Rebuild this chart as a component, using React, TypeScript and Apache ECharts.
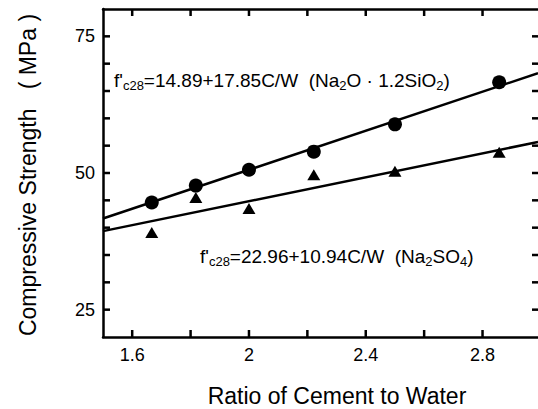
import React, { useEffect, useRef } from "react";
import * as echarts from "echarts";

// Cement-to-water ratios (C/W) of the six mixes
const cwRatio = [1.667, 1.818, 2.0, 2.222, 2.5, 2.857];
// 28-day compressive strength, MPa
const strengthSilicate = [44.6, 47.7, 50.6, 53.9, 58.9, 66.6]; // Na2O·1.2SiO2 (circles)
const strengthSulfate = [39.1, 45.5, 43.5, 49.7, 50.3, 53.8]; // Na2SO4 (triangles)
// Regression lines, end points at the left and right edges of the plot
const fitX = [1.5, 2.99];
const fitSilicate = [41.67, 68.26];
const fitSulfate = [39.37, 55.67];
// Axis ranges and ticks
const xMin = 1.5;
const xMax = 2.99;
const xTicks = [1.6, 1.8, 2.0, 2.2, 2.4, 2.6, 2.8];
const xTickLabels = [1.6, 2, 2.4, 2.8];
const yMin = 20;
const yMax = 80;
const yTicks = [25, 30, 35, 40, 45, 50, 55, 60, 65, 70, 75];
const yTickLabels = [25, 50, 75];

const FONT = "'Liberation Sans', Arial, Helvetica, sans-serif";
const TICK_LEN = 7;

export default function App() {
  const ref = useRef<HTMLDivElement>(null);
  useEffect(() => {
    if (!ref.current) return;
    const chart = echarts.init(ref.current, undefined, { renderer: "svg" });
    const axisLine = { show: true, onZero: false, lineStyle: { color: "#000", width: 2.5 } };
    const fmt = (v: number) => String(Math.round(v * 100) / 100);
    const tickStyle = { stroke: "#000", lineWidth: 2.5 };
    const rich = {
      m: { fontSize: 19, fontFamily: FONT, color: "#000", lineHeight: 24 },
      s: { fontSize: 13, fontFamily: FONT, color: "#000", lineHeight: 13, verticalAlign: "bottom" },
    };
    chart.setOption({
      animation: false,
      backgroundColor: "#fff",
      grid: { left: 103, right: 0, top: 9, bottom: 72 },
      xAxis: [
        {
          type: "value",
          min: xMin,
          max: xMax,
          position: "bottom",
          axisLine,
          splitLine: { show: false },
          axisTick: { show: false },
          axisLabel: {
            show: true,
            customValues: xTickLabels,
            formatter: fmt,
            fontSize: 18,
            fontFamily: FONT,
            color: "#000",
            margin: 9,
          },
        },
        {
          type: "value",
          min: xMin,
          max: xMax,
          position: "top",
          axisLine,
          splitLine: { show: false },
          axisTick: { show: false },
          axisLabel: { show: false },
        },
      ],
      yAxis: [
        {
          type: "value",
          min: yMin,
          max: yMax,
          interval: 5,
          position: "left",
          axisLine,
          splitLine: { show: false },
          axisTick: { show: false },
          axisLabel: {
            show: true,
            formatter: (v: number) => (yTickLabels.includes(v) ? fmt(v) : ""),
            fontSize: 18,
            fontFamily: FONT,
            color: "#000",
            margin: 8,
          },
        },
        {
          type: "value",
          min: yMin,
          max: yMax,
          interval: 5,
          position: "right",
          axisLine: { show: false },
          splitLine: { show: false },
          axisTick: { show: false },
          axisLabel: { show: false },
        },
      ],
      series: [
        {
          type: "line",
          data: fitX.map((x, i) => [x, fitSilicate[i]]),
          showSymbol: false,
          lineStyle: { color: "#000", width: 2.5 },
        },
        {
          type: "line",
          data: fitX.map((x, i) => [x, fitSulfate[i]]),
          showSymbol: false,
          lineStyle: { color: "#000", width: 2.5 },
        },
        {
          type: "scatter",
          data: cwRatio.map((x, i) => [x, strengthSilicate[i]]),
          symbol: "circle",
          symbolSize: 14,
          itemStyle: { color: "#000", opacity: 1 },
          z: 5,
        },
        {
          type: "scatter",
          data: cwRatio.map((x, i) => [x, strengthSulfate[i]]),
          symbol: "triangle",
          symbolSize: [13, 11],
          itemStyle: { color: "#000", opacity: 1 },
          z: 5,
        },
        // inward tick marks on bottom and top axes
        {
          type: "custom",
          clip: false,
          data: xTicks.map((v) => [v, yMin]),
          encode: { x: 0, y: 1 },
          renderItem: (_p: any, api: any) => {
            const x = api.value(0);
            const b = api.coord([x, yMin]);
            const t = api.coord([x, yMax]);
            return {
              type: "group",
              children: [
                { type: "line", shape: { x1: b[0], y1: b[1], x2: b[0], y2: b[1] - TICK_LEN }, style: tickStyle },
                { type: "line", shape: { x1: t[0], y1: t[1], x2: t[0], y2: t[1] + TICK_LEN }, style: tickStyle },
              ],
            };
          },
        },
        // inward tick marks on left and right axes
        {
          type: "custom",
          clip: false,
          data: yTicks.map((v) => [xMin, v]),
          encode: { x: 0, y: 1 },
          renderItem: (_p: any, api: any) => {
            const y = api.value(1);
            const l = api.coord([xMin, y]);
            const r = api.coord([xMax, y]);
            return {
              type: "group",
              children: [
                { type: "line", shape: { x1: l[0], y1: l[1], x2: l[0] + TICK_LEN, y2: l[1] }, style: tickStyle },
                { type: "line", shape: { x1: r[0], y1: r[1], x2: r[0] - TICK_LEN + 1, y2: r[1] }, style: tickStyle },
              ],
            };
          },
        },
      ],
      graphic: [
        {
          type: "text",
          x: 114,
          y: 80,
          style: {
            text: "{m|f'}{s|c28}{m|=14.89+17.85C/W  (Na}{s|2}{m|O · 1.2SiO}{s|2}{m|)}",
            rich,
            align: "left",
            verticalAlign: "middle",
          },
        },
        {
          type: "text",
          x: 200,
          y: 256,
          style: {
            text: "{m|f'}{s|c28}{m|=22.96+10.94C/W  (Na}{s|2}{m|SO}{s|4}{m|)}",
            rich,
            align: "left",
            verticalAlign: "middle",
          },
        },
        {
          type: "text",
          x: 337,
          y: 396,
          style: {
            text: "Ratio of Cement to Water",
            fontSize: 23,
            fontFamily: FONT,
            fill: "#000",
            align: "center",
            verticalAlign: "middle",
          },
        },
        {
          type: "text",
          x: 28,
          y: 175,
          rotation: Math.PI / 2,
          style: {
            text: "Compressive Strength   ( MPa )",
            fontSize: 23,
            fontFamily: FONT,
            fill: "#000",
            align: "center",
            verticalAlign: "middle",
          },
        },
      ],
    });
    return () => chart.dispose();
  }, []);
  return (
    <div
      ref={ref}
      style={{ position: "absolute", left: 0, top: 0, width: 538, height: 409, background: "#fff" }}
    />
  );
}
